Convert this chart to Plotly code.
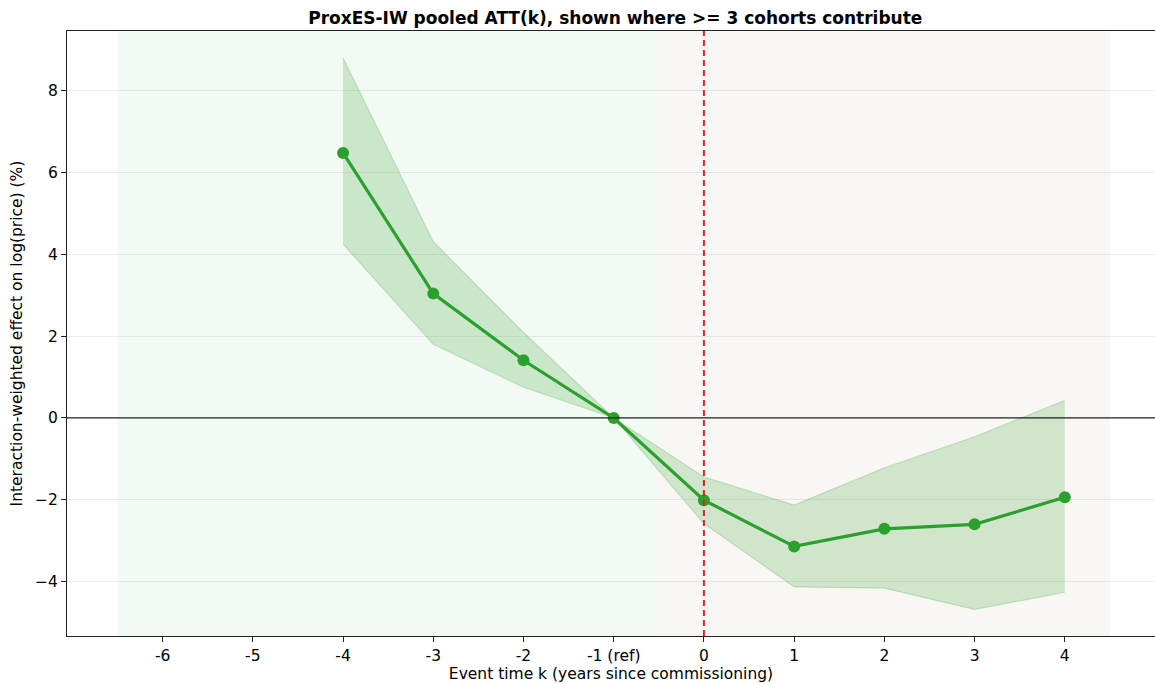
import plotly.graph_objects as go

# Event-time estimates (percent effect on log price)
event_k = [-4, -3, -2, -1, 0, 1, 2, 3, 4]
att = [6.48, 3.04, 1.41, 0.0, -2.01, -3.14, -2.71, -2.60, -1.94]
ci_low = [4.25, 1.80, 0.75, 0.0, -2.58, -4.13, -4.16, -4.68, -4.26]
ci_high = [8.80, 4.31, 2.09, 0.0, -1.44, -2.13, -1.22, -0.46, 0.43]

tick_vals = [-6, -5, -4, -3, -2, -1, 0, 1, 2, 3, 4]
tick_text = ["-6", "-5", "-4", "-3", "-2", "-1 (ref)", "0", "1", "2", "3", "4"]

pre_window = [-6.5, -0.5]
post_window = [-0.5, 4.5]

GREEN = "#2ca02c"
FONT = "DejaVu Sans"
TICK_SIZE = 15.5

fig = go.Figure()

# Confidence band
fig.add_trace(go.Scatter(
    x=event_k, y=ci_high, mode="lines",
    line=dict(color="rgba(44,160,44,0.22)", width=1.2),
    hoverinfo="skip", showlegend=False,
))
fig.add_trace(go.Scatter(
    x=event_k, y=ci_low, mode="lines",
    line=dict(color="rgba(44,160,44,0.22)", width=1.2),
    fill="tonexty", fillcolor="rgba(44,160,44,0.2)",
    hoverinfo="skip", showlegend=False,
))

# Point estimates
fig.add_trace(go.Scatter(
    x=event_k, y=att, mode="lines+markers",
    line=dict(color=GREEN, width=3.2),
    marker=dict(color=GREEN, size=12),
    showlegend=False,
))

shapes = [
    dict(type="rect", xref="x", yref="paper", x0=pre_window[0], x1=pre_window[1],
         y0=0, y1=1, fillcolor="rgba(44,160,44,0.06)", line_width=0, layer="below"),
    dict(type="rect", xref="x", yref="paper", x0=post_window[0], x1=post_window[1],
         y0=0, y1=1, fillcolor="rgba(190,170,130,0.09)", line_width=0, layer="below"),
    dict(type="line", xref="paper", yref="y", x0=0, x1=1, y0=0, y1=0,
         line=dict(color="#222222", width=1.2), layer="above"),
    dict(type="line", xref="x", yref="paper", x0=0, x1=0, y0=0, y1=1,
         line=dict(color="#d62728", width=2, dash="6px,4px"), layer="above"),
]

fig.update_layout(
    width=1155, height=684,
    margin=dict(l=67, r=0, t=31, b=48),
    paper_bgcolor="white", plot_bgcolor="white",
    font=dict(family=FONT, size=TICK_SIZE, color="black"),
    title=dict(
        text="<b>ProxES-IW pooled ATT(k), shown where >= 3 cohorts contribute</b>",
        x=0.5327, xanchor="center", y=0.974, yanchor="middle",
        font=dict(family=FONT, size=17, color="black"),
    ),
    shapes=shapes,
    showlegend=False,
)

fig.update_xaxes(
    range=[-7.06, 5.0],
    tickmode="array", tickvals=tick_vals, ticktext=tick_text,
    tickfont=dict(size=TICK_SIZE),
    showgrid=False, zeroline=False,
    showline=True, linecolor="#222222", linewidth=1.2, mirror=True,
    ticks="outside", ticklen=5, tickcolor="#222222",
    title=dict(text="Event time k (years since commissioning)", standoff=2,
               font=dict(size=TICK_SIZE)),
)
fig.update_yaxes(
    range=[-5.33, 9.46],
    tickmode="array", tickvals=[-4, -2, 0, 2, 4, 6, 8],
    tickfont=dict(size=TICK_SIZE),
    showgrid=True, gridcolor="rgba(0,0,0,0.07)", gridwidth=1,
    zeroline=False,
    showline=True, linecolor="#222222", linewidth=1.2,
    ticks="outside", ticklen=5, tickcolor="#222222",
    title=dict(text="Interaction-weighted effect on log(price) (%)", standoff=8,
               font=dict(size=TICK_SIZE)),
)

fig.write_html("out.html")
